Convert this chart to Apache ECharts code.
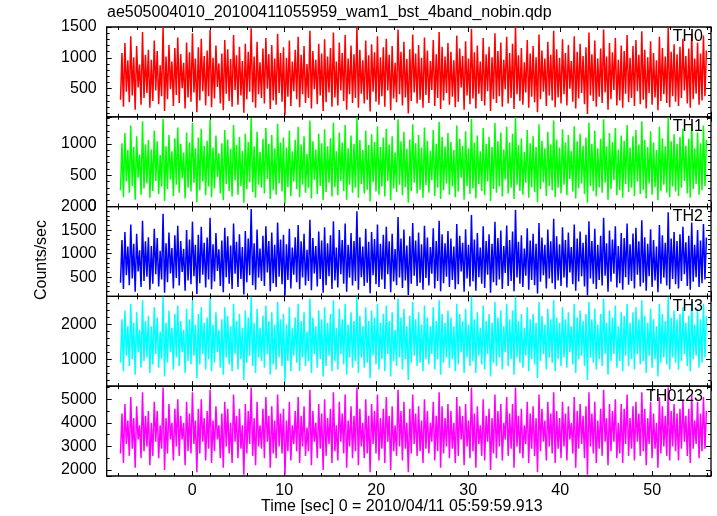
<!DOCTYPE html>
<html><head><meta charset="utf-8">
<script src="https://cdn.jsdelivr.net/npm/echarts@6/dist/echarts.min.js"></script>
<style>html,body{margin:0;padding:0;background:#fff}#c{width:717px;height:516px}</style>
</head><body><div id="c"></div>
<script>
// Data
const titleText = "ae505004010_20100411055959_wam1_bst_4band_nobin.qdp";
const xTitle = "Time [sec] 0 = 2010/04/11 05:59:59.913";
const yTitle = "Counts/sec";
const bandNames = ["TH0", "TH1", "TH2", "TH3", "TH0123"];
const tStart = -7.8, tEnd = 55.9;
const xTickLabels = [0, 10, 20, 30, 40, 50];

const th0 = [320,1080,210,1240,450,960,280,1350,390,1010,160,1190,520,890,240,1420,350,1050,430,1130,
190,970,300,1280,470,1110,250,880,380,1500,140,1020,330,1210,490,940,220,1160,400,1330,
270,1060,510,920,180,1250,360,1090,290,1400,440,990,120,1170,310,1310,460,1030,230,1120,
380,1450,200,1000,340,1200,530,910,260,1070,150,1290,420,1140,300,980,210,1370,480,1040,
240,1180,390,950,110,1230,330,1100,450,1480,280,1020,190,1260,410,930,350,1150,260,1320,
500,1060,170,1210,310,990,240,1390,430,1080,290,1170,80,1000,370,1280,220,940,460,1130,
330,1340,200,1050,410,1190,270,900,350,1440,180,1110,490,970,250,1230,390,1070,140,1300,
280,1020,440,1160,210,1410,360,940,230,1250,470,1080,300,1370,160,990,410,1200,270,1060,
350,1500,190,1130,420,960,260,1280,320,1040,130,1220,450,1090,290,1350,240,1010,380,1170,
210,1310,470,1050,150,1190,340,920,280,1460,410,1100,230,1260,360,980,100,1140,300,1380,
440,1070,260,1210,320,1000,190,1330,400,1120,270,950,480,1290,220,1060,350,1420,170,1180,
310,1020,430,1240,240,1100,370,960,200,1360,290,1150,520,1030,160,1270,390,990,250,1470,
340,1090,180,1200,420,940,300,1320,230,1060,460,1180,140,1010,330,1400,270,1110,380,1250,
210,970,490,1340,260,1080,350,1230,170,1500,410,1040,300,1160,240,930,440,1290,190,1070,
370,1190,280,1010,120,1380,330,1120,450,990,220,1260,390,1050,310,1440,200,1140,360,1000,
260,1300,410,1080,230,1210,500,950,290,1350,180,1100,340,1230,430,1030,250,1170,90,1410,
390,1060,300,1280,210,990,370,1150,270,1460,440,1020,160,1240,330,1090,480,1320,230,970,
310,1200,190,1110,420,1370,280,1000,350,1190,220,1290,460,1050,250,1430,320,1130,180,1010,
430,1270,240,1080,360,960,150,1340,300,1160,410,1020,270,1500,200,1100,380,1220,290,1060,
220,1180,350,1310,470,1030,260,1150,190,1390,330,990,420,1250,240,1070,310,1360,380,1120];

const th1 = [260,1010,150,1170,400,900,220,1290,330,950,110,1120,460,830,190,1360,290,990,370,1060,
140,910,250,1210,410,1040,200,820,320,1400,90,960,280,1140,430,880,170,1090,350,1260,
220,1000,450,860,130,1180,300,1020,240,1330,380,930,70,1100,260,1240,400,970,180,1050,
320,1380,150,940,290,1130,470,850,210,1010,100,1220,360,1070,250,920,160,1300,420,980,
190,1110,330,890,60,1160,280,1030,390,1410,230,960,140,1190,350,870,300,1080,210,1250,
440,1000,120,1140,260,930,190,1320,370,1020,240,1100,50,940,310,1210,170,880,400,1060,
280,1270,150,990,350,1120,220,840,300,1370,130,1040,430,910,200,1160,330,1010,100,1230,
230,960,380,1090,160,1340,310,880,180,1180,410,1020,250,1300,110,930,350,1130,220,1000,
300,1420,140,1060,360,900,210,1210,270,980,80,1150,390,1030,240,1280,190,950,320,1100,
160,1240,410,990,100,1120,290,860,230,1390,350,1040,180,1190,310,920,60,1070,250,1310,
380,1010,210,1140,270,940,140,1260,340,1050,220,890,420,1220,170,1000,300,1350,120,1110,
260,960,370,1170,190,1030,320,900,150,1290,240,1080,460,970,110,1200,330,930,200,1400,
290,1020,130,1130,360,880,250,1250,180,1000,400,1110,90,950,280,1330,220,1040,320,1180,
160,910,430,1270,210,1020,300,1160,120,1420,350,980,250,1090,190,870,380,1220,140,1010,
310,1120,230,950,70,1310,280,1050,390,930,170,1190,330,990,260,1370,150,1070,300,940,
210,1230,350,1020,180,1140,440,890,240,1280,130,1040,290,1160,370,970,200,1100,60,1340,
330,1000,250,1210,160,930,310,1080,220,1390,380,960,110,1170,280,1030,420,1250,180,910,
260,1130,140,1050,360,1300,230,940,300,1120,170,1220,400,990,200,1360,270,1060,130,950,
370,1200,190,1020,310,900,100,1270,250,1090,350,960,220,1420,150,1040,320,1150,240,1000,
170,1110,300,1240,410,970,210,1080,140,1320,280,930,360,1180,190,1010,260,1290,330,1060];

const th2 = [380,1290,250,1460,540,1150,330,1620,470,1210,190,1420,620,1070,290,1700,420,1260,510,1350,
230,1160,360,1530,560,1330,300,1060,450,1850,170,1220,390,1450,580,1120,260,1390,480,1590,
320,1270,610,1100,210,1500,430,1300,350,1680,520,1190,140,1400,370,1570,550,1230,280,1340,
450,1760,240,1200,410,1440,630,1090,310,1280,180,1550,500,1370,360,1170,250,1640,570,1250,
290,1410,460,1140,130,1480,390,1320,540,1950,330,1220,230,1510,490,1110,420,1380,310,1580,
600,1270,200,1450,370,1190,290,1660,510,1300,350,1400,110,1200,440,1530,260,1130,550,1350,
390,1610,240,1260,490,1420,320,1080,420,1720,220,1330,580,1160,300,1470,460,1280,170,1560,
330,1220,520,1390,250,1690,430,1130,280,1500,560,1290,360,1640,190,1190,490,1440,320,1270,
420,1900,230,1350,500,1150,310,1530,380,1250,160,1460,540,1310,350,1620,290,1210,450,1400,
250,1570,560,1260,180,1420,410,1100,330,1780,490,1320,270,1510,430,1170,120,1370,360,1650,
530,1280,310,1450,380,1200,230,1590,480,1340,320,1140,570,1540,260,1270,420,1700,200,1410,
370,1220,510,1480,290,1320,440,1150,240,1630,350,1380,620,1230,190,1520,470,1190,300,1820,
410,1300,210,1440,500,1130,360,1580,270,1270,550,1410,170,1210,390,1680,320,1330,450,1490,
250,1160,590,1600,310,1290,420,1470,200,1930,490,1250,360,1390,290,1110,530,1540,230,1280,
440,1420,330,1210,150,1650,400,1340,540,1190,260,1510,470,1260,370,1740,240,1370,430,1200,
310,1560,490,1290,280,1450,600,1140,350,1620,210,1320,410,1470,520,1230,300,1400,110,1690,
470,1270,360,1530,250,1190,440,1380,320,1760,530,1220,190,1490,400,1300,570,1580,280,1160,
370,1440,230,1330,500,1640,340,1200,420,1430,260,1550,550,1260,300,1710,380,1350,210,1210,
520,1520,290,1290,430,1150,180,1610,360,1390,490,1230,320,1880,240,1320,460,1460,350,1270,
260,1410,420,1570,560,1240,310,1380,230,1660,400,1190,500,1500,290,1280,370,1630,450,1340];

const th3 = [900,2150,650,2400,1100,1950,800,2600,1000,2050,550,2350,1200,1850,750,2700,950,2100,1050,2250,
600,1950,850,2500,1150,2200,750,1800,1000,2800,500,2050,900,2400,1200,1900,700,2300,1050,2550,
800,2100,1200,1850,600,2450,950,2150,850,2700,1100,2000,450,2300,850,2500,1150,2050,700,2200,
1000,2750,650,2000,900,2350,1200,1850,750,2150,550,2500,1050,2250,850,1950,650,2600,1150,2100,
700,2300,1000,1900,400,2400,900,2200,1100,2800,800,2050,600,2450,1050,1900,950,2250,750,2550,
1150,2100,550,2350,850,2000,700,2650,1050,2150,800,2300,350,2000,950,2500,650,1900,1100,2200,
900,2600,650,2100,1050,2350,800,1800,950,2750,600,2200,1150,1950,750,2400,1000,2150,500,2500,
800,2050,1100,2300,650,2700,950,1900,700,2450,1150,2150,850,2600,550,2000,1050,2350,750,2100,
950,2800,600,2250,1050,1950,750,2500,900,2100,450,2400,1100,2200,850,2600,700,2050,1000,2300,
650,2550,1150,2100,500,2350,950,1850,800,2750,1050,2200,700,2450,1000,1950,400,2250,900,2650,
1100,2150,800,2350,900,2000,650,2550,1000,2200,850,1950,1150,2500,700,2100,1000,2700,550,2300,
900,2050,1050,2400,750,2200,1000,1950,650,2600,850,2300,1200,2100,600,2450,1050,2000,800,2800,
950,2150,600,2350,1100,1900,850,2550,700,2100,1150,2300,500,2050,900,2650,800,2200,1050,2400,
700,1950,1200,2600,800,2150,1000,2400,550,2800,1050,2100,900,2300,750,1900,1100,2500,650,2150,
1000,2300,850,2050,450,2650,950,2250,1150,2000,700,2450,1050,2150,900,2700,650,2200,1000,2050,
800,2500,1050,2150,750,2350,1200,1950,850,2600,600,2200,1000,2400,1100,2100,800,2300,400,2650,
1050,2150,900,2450,700,2000,1000,2300,800,2750,1150,2050,550,2400,950,2200,1150,2550,750,1950,
950,2350,650,2250,1100,2600,800,2050,1000,2350,700,2500,1150,2150,850,2700,950,2250,600,2050,
1100,2450,750,2150,1000,1950,500,2600,900,2300,1050,2100,850,2800,700,2200,1050,2400,900,2150,
700,2300,950,2500,1150,2050,800,2250,650,2650,1000,2000,1100,2450,750,2150,900,2600,1050,2250];

const th0123 = [2700,4400,2300,4800,3100,4100,2600,5100,2900,4200,2100,4700,3300,3900,2500,5300,2800,4300,3000,4500,
2200,4000,2600,4900,3200,4500,2500,3900,2900,5500,2000,4200,2700,4800,3300,4000,2400,4600,3000,5000,
2600,4300,3300,4000,2200,4900,2800,4400,2700,5300,3100,4100,1900,4600,2700,5000,3200,4200,2400,4500,
2900,5400,2300,4100,2800,4700,3300,3900,2500,4400,2100,4900,3000,4600,2700,4000,2300,5200,3200,4300,
2500,4600,2900,3900,1800,4800,2700,4500,3100,5500,2600,4200,2200,4900,3000,3900,2900,4600,2500,5100,
3200,4300,2100,4700,2700,4100,2500,5200,3000,4400,2700,4600,1800,4100,2800,4900,2400,3900,3100,4500,
2800,5100,2300,4300,3000,4700,2600,3800,2800,5400,2200,4500,3200,4000,2500,4800,2900,4400,2000,5000,
2600,4200,3100,4600,2300,5300,2800,3900,2400,4900,3200,4400,2700,5200,2100,4100,3000,4700,2500,4300,
2800,5500,2200,4600,3000,4000,2500,5000,2700,4300,1900,4800,3100,4500,2700,5200,2400,4200,2900,4600,
2300,5100,3200,4300,2000,4700,2800,3900,2600,5400,3000,4500,2400,4900,2900,4000,1900,4600,2700,5200,
3100,4400,2600,4700,2800,4100,2300,5000,2900,4500,2700,4000,3200,4900,2400,4300,2800,5300,2100,4700,
2700,4200,3000,4800,2500,4500,2900,4000,2300,5100,2600,4700,3300,4300,2200,4800,3000,4100,2500,5500,
2800,4400,2100,4700,3100,3900,2600,5000,2400,4300,3200,4600,2000,4200,2700,5200,2500,4500,3000,4800,
2400,4000,3300,5100,2600,4400,2900,4800,2100,5500,3000,4300,2700,4600,2500,3900,3100,4900,2300,4400,
2900,4700,2600,4200,1900,5200,2800,4600,3200,4100,2400,4900,3000,4400,2700,5300,2300,4500,2900,4200,
2500,4900,3000,4400,2400,4700,3300,4000,2700,5100,2100,4500,2900,4800,3100,4300,2500,4700,1800,5300,
3000,4400,2700,4900,2300,4100,2900,4600,2600,5400,3200,4200,2200,4800,2800,4500,3200,5000,2500,4000,
2700,4800,2300,4600,3100,5200,2600,4200,2900,4700,2400,4900,3200,4400,2600,5300,2800,4600,2200,4200,
3100,4900,2500,4400,2900,4000,2100,5100,2700,4700,3000,4300,2600,5500,2400,4500,3000,4800,2800,4400,
2400,4600,2900,5000,3200,4300,2600,4600,2300,5200,2900,4100,3100,4900,2500,4400,2800,5100,2900,4500];

const seriesValues = [th0, th1, th2, th3, th0123];
const colors = ['#ff0000', '#00ff00', '#0000ff', '#00ffff', '#ff00ff'];
// axis config per panel
const yMin = [45, 0, 90, 220, 1745];
const yMax = [1500, 1430, 2000, 2810, 5556];
const yStep = [500, 500, 500, 1000, 1000];
const ySplit = [3, 3, 4, 3, 4];
const yMinorSplit = [5, 5, 5, 5, 2];
const xMin = -9.3, xMax = 56.4;

const FONT = '"Liberation Sans", Arial, Helvetica, sans-serif';
const L = 106.7, R = 6;
const tops = [27, 116.8, 206.6, 296.4, 386.2];
const H = 89.8;

const grids = [], xAxes = [], yAxes = [], series = [];
for (let i = 0; i < 5; i++) {
  grids.push({left: L, right: R, top: tops[i], height: H, show: true, borderColor: '#000', borderWidth: 1.3, backgroundColor: 'transparent'});
  const xCommon = {
    type: 'value', gridIndex: i, min: xMin, max: xMax, splitNumber: 5,
    axisLine: {show: false, onZero: false}, splitLine: {show: false},
    axisTick: {show: true, inside: true, length: 5, lineStyle: {color: '#000', width: 1}},
    minorTick: {show: true, splitNumber: 5, length: 3, lineStyle: {color: '#000', width: 1}},
    minorSplitLine: {show: false}
  };
  xAxes.push(Object.assign({}, xCommon, {position: 'bottom',
    axisLabel: {show: i === 4, color: '#000', fontSize: 16, fontFamily: FONT, margin: 7,
      formatter: v => (xTickLabels.indexOf(v) >= 0 ? String(v) : '')}}));
  xAxes.push(Object.assign({}, xCommon, {position: 'top', axisLabel: {show: false}}));
  const step = yStep[i];
  const yCommon = {
    type: 'value', gridIndex: i, min: yMin[i], max: yMax[i], splitNumber: ySplit[i],
    axisLine: {show: false, onZero: false}, splitLine: {show: false},
    axisTick: {show: true, inside: true, length: 5, lineStyle: {color: '#000', width: 1}},
    minorTick: {show: true, splitNumber: yMinorSplit[i], length: 3, lineStyle: {color: '#000', width: 1}},
    minorSplitLine: {show: false}
  };
  yAxes.push(Object.assign({}, yCommon, {position: 'left',
    axisLabel: {show: true, color: '#000', fontSize: 16, fontFamily: FONT, margin: 10,
      formatter: v => (v % step === 0 ? String(v) : '')}}));
  yAxes.push(Object.assign({}, yCommon, {position: 'right', axisLabel: {show: false}}));
  const vals = seriesValues[i];
  const n = vals.length;
  const data = vals.map((v, k) => [tStart + k * (tEnd - tStart) / (n - 1), v]);
  series.push({
    type: 'line', xAxisIndex: 2 * i, yAxisIndex: 2 * i, data: data,
    showSymbol: false, symbol: 'none', sampling: null, clip: true,
    lineStyle: {color: colors[i], width: 1.5}, itemStyle: {color: colors[i]},
    animation: false, silent: true, z: 1
  });
}

const graphics = [
  {type: 'text', left: 107, top: 5, style: {text: titleText, font: '16px ' + FONT, fill: '#000'}},
  {type: 'text', left: 261, top: 499, style: {text: xTitle, font: '16px ' + FONT, fill: '#000'}},
  {type: 'text', x: 42, y: 260, rotation: Math.PI / 2, style: {text: yTitle, font: '16px ' + FONT, fill: '#000', align: 'center', verticalAlign: 'middle'}}
];
const labelY = [37, 127, 217, 307, 397];
for (let i = 0; i < 5; i++) {
  graphics.push({type: 'text', x: 703, y: labelY[i], z: 100, style: {text: bandNames[i], font: '16px ' + FONT, fill: '#000', align: 'right', verticalAlign: 'middle'}});
}

const chart = echarts.init(document.getElementById('c'), null, {renderer: 'canvas'});
chart.setOption({
  animation: false,
  backgroundColor: '#fff',
  grid: grids, xAxis: xAxes, yAxis: yAxes, series: series,
  graphic: graphics
});
</script></body></html>
